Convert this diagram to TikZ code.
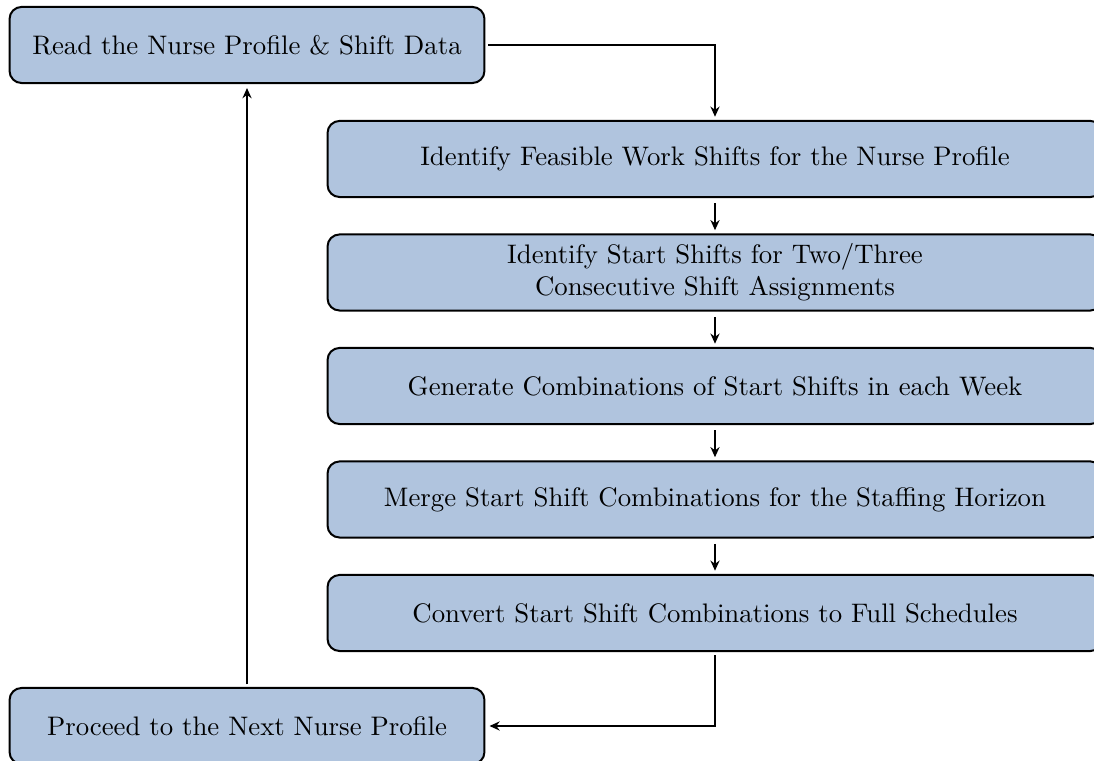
\documentclass[tikz,border=0pt]{standalone}
\usetikzlibrary{arrows.meta}
\definecolor{boxblue}{HTML}{B0C4DE}
\tikzset{
  stepbox/.style={draw, fill=boxblue, line width=0.75pt, rounded corners=4.5pt,
    align=center, inner sep=0pt, minimum height=28.4pt},
  sidebox/.style={stepbox, minimum width=177.3pt},
  mainbox/.style={stepbox, minimum width=289.3pt},
  flow/.style={-{Stealth[length=3.8pt,width=3.4pt]}, line width=0.75pt}
}
\begin{document}
\begin{tikzpicture}[x=0.3733pt, y=-0.3733pt]
          \useasboundingbox (0,0) rectangle (1094,761);

          \node[sidebox] (read) at (247,45) {Read the Nurse Profile \& Shift Data};
          \node[mainbox] (feas) at (715,159) {Identify Feasible Work Shifts for the Nurse Profile};
          \node[mainbox] (cons) at (715,272.5) {Identify Start Shifts for Two/Three\\Consecutive Shift Assignments};
          \node[mainbox] (comb) at (715,386) {Generate Combinations of Start Shifts in each Week};
          \node[mainbox] (merge) at (715,499.5) {Merge Start Shift Combinations for the Staffing Horizon};
          \node[mainbox] (conv) at (715,613) {Convert Start Shift Combinations to Full Schedules};
          \node[sidebox] (next) at (247,726) {Proceed to the Next Nurse Profile};

          \draw[flow, shorten <=1pt, shorten >=1.2pt] (read.east) -| (feas.north);
          \draw[flow, shorten <=2pt, shorten >=1.2pt] (feas) -- (cons);
          \draw[flow, shorten <=2pt, shorten >=1.2pt] (cons) -- (comb);
          \draw[flow, shorten <=2pt, shorten >=1.2pt] (comb) -- (merge);
          \draw[flow, shorten <=2pt, shorten >=1.2pt] (merge) -- (conv);
          \draw[flow, shorten <=1.2pt, shorten >=1.5pt] (conv.south) |- (next.east);
          \draw[flow, shorten <=1pt, shorten >=1.5pt] (next) -- (read);
      \end{tikzpicture}
\end{document}
